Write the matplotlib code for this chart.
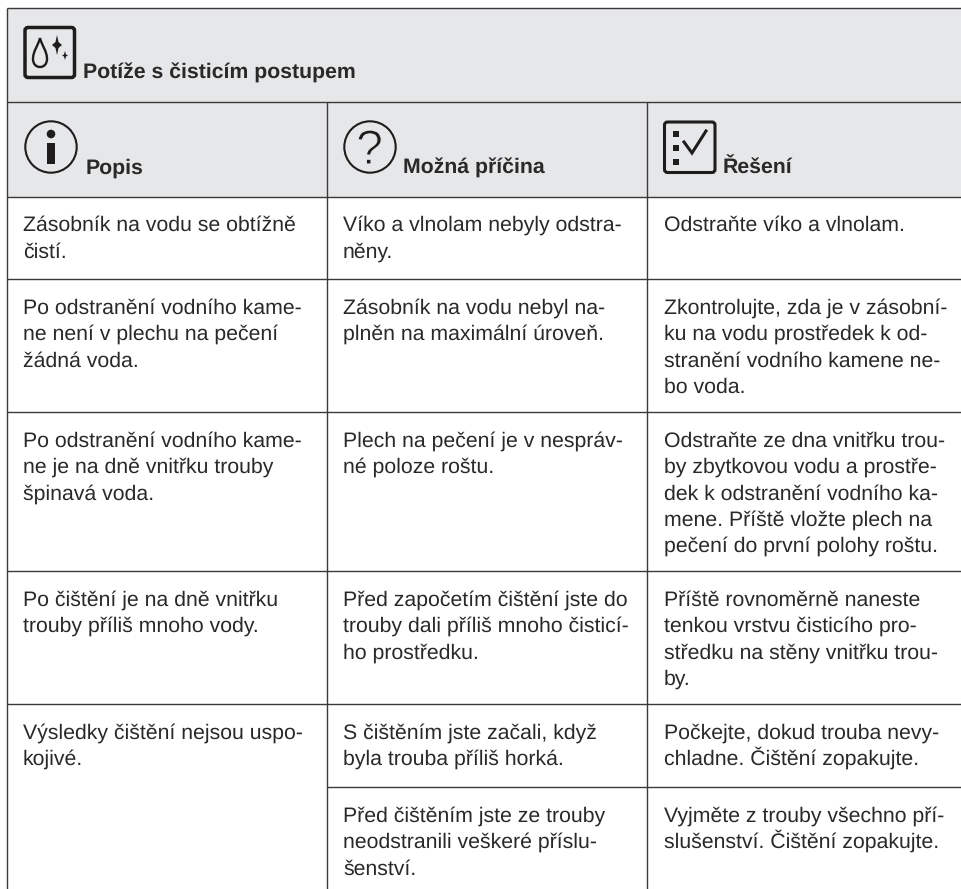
import matplotlib
matplotlib.use("Agg")
import matplotlib.pyplot as plt
import matplotlib.patheffects as pe
from matplotlib.patches import Circle, FancyBboxPatch, Rectangle, Polygon, PathPatch
from matplotlib.path import Path

plt.rcParams["text.hinting"] = "no_hinting"
plt.rcParams["text.hinting_factor"] = 8

title = "Potíže s čisticím postupem"
col_heads = ["Popis", "Možná příčina", "Řešení"]
popis = [
    ["Zásobník na vodu se obtížně", "čistí."],
    ["Po odstranění vodního kame-", "ne není v plechu na pečení", "žádná voda."],
    ["Po odstranění vodního kame-", "ne je na dně vnitřku trouby", "špinavá voda."],
    ["Po čištění je na dně vnitřku", "trouby příliš mnoho vody."],
    ["Výsledky čištění nejsou uspo-", "kojivé."],
]
pricina = [
    ["Víko a vlnolam nebyly odstra-", "něny."],
    ["Zásobník na vodu nebyl na-", "plněn na maximální úroveň."],
    ["Plech na pečení je v nespráv-", "né poloze roštu."],
    ["Před započetím čištění jste do", "trouby dali příliš mnoho čisticí-", "ho prostředku."],
    ["S čištěním jste začali, když", "byla trouba příliš horká."],
    ["Před čištěním jste ze trouby", "neodstranili veškeré příslu-", "šenství."],
]
reseni = [
    ["Odstraňte víko a vlnolam."],
    ["Zkontrolujte, zda je v zásobní-", "ku na vodu prostředek k od-", "stranění vodního kamene ne-", "bo voda."],
    ["Odstraňte ze dna vnitřku trou-", "by zbytkovou vodu a prostře-", "dek k odstranění vodního ka-", "mene. Příště vložte plech na", "pečení do první polohy roštu."],
    ["Příště rovnoměrně naneste", "tenkou vrstvu čisticího pro-", "středku na stěny vnitřku trou-", "by."],
    ["Počkejte, dokud trouba nevy-", "chladne. Čištění zopakujte."],
    ["Vyjměte z trouby všechno pří-", "slušenství. Čištění zopakujte."],
]
row_lines = [196.5, 279, 412, 571, 704, 787, 889]
INK = "#2b2829"
GRID = "#3a3839"
FILL = "#e6e7e8"
FONT = "Liberation Sans"
FS = 15.3
LEAD = 26.4
col_text_x = [23, 343, 663.5]

fig = plt.figure(figsize=(9.61, 8.89), dpi=100)
ax = fig.add_axes([0, 0, 1, 1])
ax.set_xlim(0, 961)
ax.set_ylim(889, 0)
ax.axis("off")

ax.add_patch(Rectangle((7, 8), 954, 188.5, fc=FILL, ec="none", zorder=0))


def hline(y, x0=7, x1=961, lw=1.0):
    ax.plot([x0, x1], [y, y], color=GRID, lw=lw, solid_capstyle="butt", zorder=2)


def vline(x, y0, y1, lw=1.0):
    ax.plot([x, x], [y0, y1], color=GRID, lw=lw, solid_capstyle="butt", zorder=2)


hline(8); hline(102); hline(196.5)
for y in row_lines[1:5]:
    hline(y)
hline(row_lines[5], x0=327)
vline(7, 8, 889)
vline(327, 102, 889)
vline(647, 102, 889)


def block(x, base, lines):
    for i, s in enumerate(lines):
        ax.text(x, base + i * LEAD, s, fontsize=FS, family=FONT, color=INK,
                ha="left", va="baseline")


offset = 34.5
for i, lines in enumerate(popis):
    block(col_text_x[0], row_lines[i] + offset, lines)
for i, lines in enumerate(pricina):
    block(col_text_x[1], row_lines[i] + offset, lines)
for i, lines in enumerate(reseni):
    block(col_text_x[2], row_lines[i] + offset, lines)

ax.text(83, 79, title, fontsize=FS, family=FONT, weight="bold", color=INK, va="baseline")
for x, s in zip([86, 403, 723], col_heads):
    ax.text(x, 174, s, fontsize=FS, family=FONT, weight="bold", color=INK, va="baseline")

# icons
ICON = "#1f1c1d"
ax.add_patch(FancyBboxPatch((25, 27.5), 49.5, 50, boxstyle="round,pad=0,rounding_size=3",
                            fc="none", ec=ICON, lw=2.5, zorder=3))
drop = Path([(40, 38), (38, 46), (33, 51), (33, 59), (33, 64), (36, 67), (40, 67),
             (44, 67), (47, 64), (47, 59), (47, 51), (42, 46), (40, 38)],
            [Path.MOVETO] + [Path.CURVE4] * 12)
ax.add_patch(PathPatch(drop, fc="none", ec=ICON, lw=1.7, zorder=3))
ax.add_patch(Polygon([(57, 35), (58.5, 42), (62, 45), (58.5, 48), (57, 55), (55.5, 48), (52, 45), (55.5, 42)],
                     fc=ICON, ec="none", zorder=3))
ax.add_patch(Polygon([(65, 51), (66, 54.5), (68, 55.5), (66, 56.5), (65, 60), (64, 56.5), (62, 55.5), (64, 54.5)],
                     fc=ICON, ec="none", zorder=3))

ax.add_patch(Circle((51, 147), 25.7, fc="none", ec=ICON, lw=1.5, zorder=3))
ax.add_patch(Circle((51, 134), 4.3, fc=ICON, ec="none", zorder=3))
ax.add_patch(Rectangle((47, 143), 8, 20.5, fc=ICON, ec="none", zorder=3))

ax.add_patch(Circle((370, 147), 25.7, fc="none", ec=ICON, lw=1.5, zorder=3))
ax.text(369.5, 164, "?", fontsize=35, family=FONT, color=ICON, ha="center", va="baseline", zorder=3,
        path_effects=[pe.Stroke(linewidth=0.8, foreground=FILL)])

ax.add_patch(FancyBboxPatch((664.5, 122), 50.5, 50.5, boxstyle="round,pad=0,rounding_size=3",
                            fc="none", ec=ICON, lw=2.2, zorder=3))
for y in (131, 145, 159):
    ax.add_patch(Rectangle((673, y), 6, 5.5, fc=ICON, ec="none", zorder=3))
ax.plot([684, 692, 706], [142, 153, 131], color=ICON, lw=2.2, solid_joinstyle="miter", zorder=3)

fig.savefig("out.png", dpi=100, facecolor="white")
